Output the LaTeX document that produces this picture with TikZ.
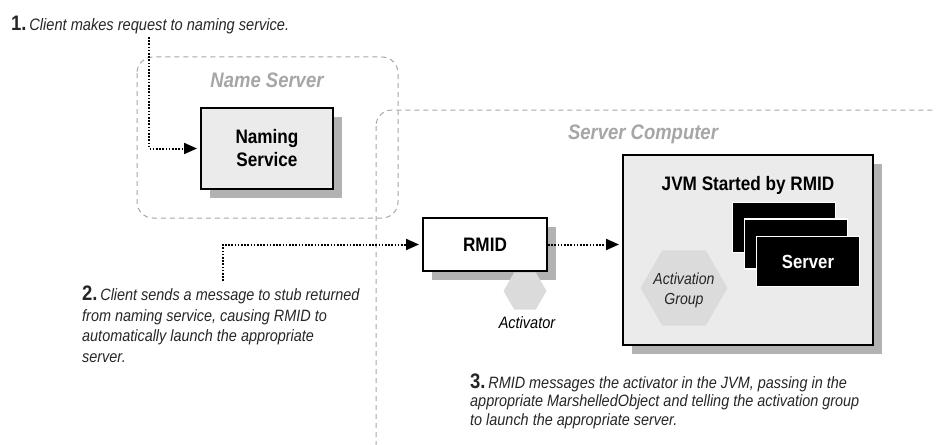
\documentclass[tikz,border=0pt]{standalone}
\usepackage{fontspec}
\setmainfont{Liberation Sans}[FakeStretch=0.88]
\usetikzlibrary{arrows.meta,shapes.geometric,shadows}
\tikzset{
  boxnode/.style={draw=black, line width=2pt, inner sep=0pt, align=center,
    font=\bfseries\fontsize{19.5}{23}\selectfont,
    drop shadow={shadow xshift=9pt, shadow yshift=-9pt, fill=black!30, opacity=1}},
  regionline/.style={draw=black!35, line width=1pt, dash pattern=on 5pt off 4pt, rounded corners=16pt},
  regionlabel/.style={text=black!35, font=\bfseries\itshape\fontsize{21}{23}\selectfont, inner sep=0pt},
  dotarrow/.style={line width=2pt, dash pattern=on 1.6pt off 1.6pt, -{Triangle[length=13pt,width=11pt]}, shorten >=3pt},
  stepnote/.style={align=left, inner sep=0pt, anchor=base west, text=black!85},
  hexnode/.style={regular polygon, regular polygon sides=6, fill=black!14, inner sep=0pt},
  servercard/.style={fill=black, draw=white, line width=1.5pt, minimum width=103pt, minimum height=50pt, inner sep=0pt},
}
\newcommand{\stepnum}[1]{{\upshape\bfseries\fontsize{21}{19}\selectfont #1}\,}
\begin{document}
\begin{tikzpicture}[x=1pt,y=-1pt]
\useasboundingbox (0,0) rectangle (936,444);
% regions
\draw[regionline] (137,57) rectangle (398,218);
\begin{scope}
\clip (0,0) rectangle (936,444);
\draw[regionline] (376,110) rectangle (980,500);
\end{scope}
\node[regionlabel] (nslabel) at (267,80) {Name Server};
\node[regionlabel] (sclabel) at (643,134) {Server Computer};
% main boxes
\node[boxnode, fill=black!8, minimum width=132pt, minimum height=81pt] (naming) at (267,148.5) {Naming\\Service};
\node[boxnode, fill=white, minimum width=124pt, minimum height=53pt] (rmid) at (485,244.5) {RMID};
\node[hexnode, minimum size=43pt] (activator) at (525,291) {};
\node[font=\itshape\fontsize{16.5}{18}\selectfont, inner sep=0pt] (activatorlabel) at (527,323) {Activator};
\node[boxnode, fill=black!8, minimum width=250pt, minimum height=190pt] (jvm) at (748,250) {};
\node[font=\bfseries\fontsize{19.5}{23}\selectfont, inner sep=0pt] (jvmlabel) at (748,185) {JVM Started by RMID};
\node[servercard] (srv1) at (784,227.5) {};
\node[servercard] (srv2) at (796,244) {};
\node[servercard, text=white, font=\bfseries\fontsize{19}{22}\selectfont] (srv3) at (808,261.5) {Server};
\node[hexnode, minimum size=87pt] (actgroup) at (684,288) {};
\node[font=\itshape\fontsize{16}{20}\selectfont, align=center, inner sep=0pt, text=black!85] (actgrouplabel) at (684,290) {Activation\\Group};
% notes
\node[stepnote, font=\itshape\fontsize{16.6}{20}\selectfont] (step1) at (11,31) {\stepnum{1.}Client makes request to naming service.};
\node[stepnote, font=\itshape\fontsize{16.4}{20.5}\selectfont] (step2) at (82,362) {\stepnum{2.}Client sends a message to stub returned\\from naming service, causing RMID to\\automatically launch the appropriate\\server.};
\node[stepnote, font=\itshape\fontsize{16.4}{18.5}\selectfont] (step3) at (470,425) {\stepnum{3.}RMID messages the activator in the JVM, passing in the\\appropriate MarshelledObject and telling the activation group\\to launch the appropriate server.};
% connectors
\coordinate (c1) at (149,37);
\coordinate (c2) at (223,281);
\draw[dotarrow] (c1) |- (naming.west);
\draw[dotarrow] (c2) |- (rmid.west);
\draw[dotarrow] (rmid.east) -- (rmid.east -| jvm.west);
\end{tikzpicture}
\end{document}
